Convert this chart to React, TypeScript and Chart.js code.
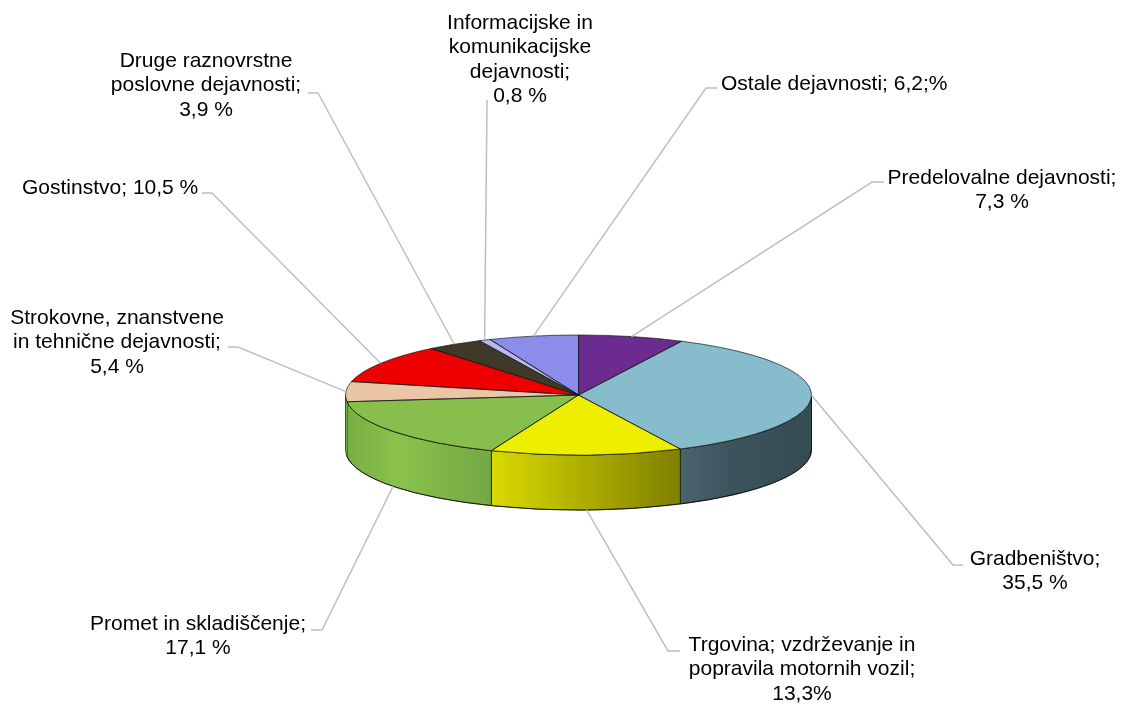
import React, { useEffect, useRef } from "react";
import { Chart, registerables } from "chart.js";
Chart.register(...registerables);

// ---- data ----
const categories = [
  "Predelovalne dejavnosti",
  "Gradbeništvo",
  "Trgovina; vzdrževanje in popravila motornih vozil",
  "Promet in skladiščenje",
  "Strokovne, znanstvene in tehnične dejavnosti",
  "Gostinstvo",
  "Druge raznovrstne poslovne dejavnosti",
  "Informacijske in komunikacijske dejavnosti",
  "Ostale dejavnosti",
];
const shares = [7.3, 35.5, 13.3, 17.1, 5.4, 10.5, 3.9, 0.8, 6.2];
const labelLines = [
  ["Predelovalne dejavnosti;", "7,3 %"],
  ["Gradbeništvo;", "35,5 %"],
  ["Trgovina; vzdrževanje in", "popravila motornih vozil;", "13,3%"],
  ["Promet in skladiščenje;", "17,1 %"],
  ["Strokovne, znanstvene", "in tehnične dejavnosti;", "5,4 %"],
  ["Gostinstvo; 10,5 %"],
  ["Druge raznovrstne", "poslovne dejavnosti;", "3,9 %"],
  ["Informacijske in", "komunikacijske", "dejavnosti;", "0,8 %"],
  ["Ostale dejavnosti; 6,2;%"],
];

// ---- styles ----
const topColors = [
  "#6B2B90",
  "#87BCCC",
  "#EEEE00",
  "#88BF4C",
  "#EBC6A6",
  "#EE0000",
  "#3F3A28",
  "#B8B8EE",
  "#8C8CEA",
];
const sideStops: [number, string][][] = [
  [[0, "#4B1E66"], [1, "#3A174F"]],
  [[0, "#4A636D"], [0.4, "#3C535C"], [1, "#364C54"]],
  [[0, "#DADA00"], [1, "#7F7F00"]],
  [[0, "#77AE42"], [0.35, "#8AC24C"], [1, "#74A844"]],
  [[0, "#77AE42"], [1, "#77AE42"]],
  [[0, "#B00000"], [1, "#900000"]],
  [[0, "#2E2A1D"], [1, "#25221A"]],
  [[0, "#8E8EC0"], [1, "#7A7AAA"]],
  [[0, "#6A6AB8"], [1, "#5A5AA0"]],
];

// ---- layout ----
const PIE_RADIUS = 233;
const TILT = 60 / 233;
const DEPTH = 55;
const FONT = "21px 'Liberation Sans', Arial, sans-serif";
const LINE_H = 24.5;
type Lay = { x: number; y: number; align: CanvasTextAlign; elbow: [number, number]; stub: [number, number] };
const labelLayout: Lay[] = [
  { x: 1002, y: 178, align: "center", elbow: [872, 182], stub: [884, 182] },
  { x: 1035, y: 559, align: "center", elbow: [953, 565], stub: [963, 565] },
  { x: 802, y: 645, align: "center", elbow: [668, 651], stub: [680, 651] },
  { x: 198, y: 624, align: "center", elbow: [322, 630], stub: [311, 630] },
  { x: 117, y: 318, align: "center", elbow: [238, 347], stub: [228, 347] },
  { x: 22, y: 188, align: "left", elbow: [212, 193], stub: [202, 193] },
  { x: 206, y: 61, align: "center", elbow: [318, 93], stub: [308, 93] },
  { x: 520, y: 23, align: "center", elbow: [487, 102], stub: [487, 100] },
  { x: 721, y: 84, align: "left", elbow: [706, 88], stub: [717, 88] },
];

function applyTilt(ctx: CanvasRenderingContext2D, cy: number) {
  ctx.translate(0, cy);
  ctx.scale(1, TILT);
  ctx.translate(0, -cy);
}

const pie3d = {
  id: "pie3d",
  beforeDatasetsDraw(chart: any) {
    const ctx: CanvasRenderingContext2D = chart.ctx;
    const meta = chart.getDatasetMeta(0);
    meta.data.forEach((el: any, i: number) => {
      const { x, y, startAngle, endAngle, outerRadius: r } = el;
      const ry = r * TILT;
      const a1 = Math.max(startAngle, 0);
      const a2 = Math.min(endAngle, Math.PI);
      if (a2 <= a1) return;
      const xR = x + r * Math.cos(a1);
      const xL = x + r * Math.cos(a2);
      ctx.save();
      ctx.beginPath();
      ctx.ellipse(x, y, r, ry, 0, a1, a2, false);
      ctx.lineTo(x + r * Math.cos(a2), y + ry * Math.sin(a2) + DEPTH);
      ctx.ellipse(x, y + DEPTH, r, ry, 0, a2, a1, true);
      ctx.closePath();
      const g = ctx.createLinearGradient(xL, 0, Math.max(xR, xL + 1), 0);
      sideStops[i].forEach(([o, c]) => g.addColorStop(o, c));
      ctx.fillStyle = g;
      ctx.fill();
      if (xR - xL > 3) {
        ctx.strokeStyle = "rgba(0,0,0,0.8)";
        ctx.lineWidth = 0.8;
        ctx.stroke();
      }
      ctx.restore();
    });
    // outer outline of the side
    const el0 = meta.data[0];
    ctx.save();
    ctx.beginPath();
    ctx.ellipse(el0.x, el0.y, el0.outerRadius, el0.outerRadius * TILT, 0, 0, Math.PI, false);
    ctx.lineTo(el0.x - el0.outerRadius, el0.y + DEPTH);
    ctx.ellipse(el0.x, el0.y + DEPTH, el0.outerRadius, el0.outerRadius * TILT, 0, Math.PI, 0, true);
    ctx.closePath();
    ctx.strokeStyle = "rgba(0,0,0,0.8)";
    ctx.lineWidth = 0.8;
    ctx.stroke();
    ctx.restore();
    ctx.save();
    applyTilt(ctx, meta.data[0].y);
  },
  afterDatasetsDraw(chart: any) {
    const ctx: CanvasRenderingContext2D = chart.ctx;
    ctx.restore();
    const meta = chart.getDatasetMeta(0);
    meta.data.forEach((el: any) => {
      const { x, y, startAngle, endAngle, outerRadius: r } = el;
      ctx.save();
      applyTilt(ctx, y);
      ctx.beginPath();
      ctx.moveTo(x, y);
      ctx.arc(x, y, r, startAngle, endAngle);
      ctx.closePath();
      ctx.restore();
      ctx.save();
      ctx.strokeStyle = "rgba(20,20,20,0.85)";
      ctx.lineWidth = 0.8;
      ctx.stroke();
      ctx.restore();
    });
  },
  afterDraw(chart: any) {
    const ctx: CanvasRenderingContext2D = chart.ctx;
    const meta = chart.getDatasetMeta(0);
    meta.data.forEach((el: any, i: number) => {
      const { x, y, startAngle, endAngle, outerRadius: r } = el;
      const mid = (startAngle + endAngle) / 2;
      const front = Math.sin(mid) > 0.3;
      const ax = x + r * Math.cos(mid);
      const ay = y + r * TILT * Math.sin(mid) + (front ? DEPTH : 0);
      const lay = labelLayout[i];
      ctx.save();
      ctx.strokeStyle = "#BFBFBF";
      ctx.lineWidth = 1.5;
      ctx.beginPath();
      ctx.moveTo(ax, ay);
      ctx.lineTo(lay.elbow[0], lay.elbow[1]);
      ctx.lineTo(lay.stub[0], lay.stub[1]);
      ctx.stroke();
      ctx.fillStyle = "#000";
      ctx.font = FONT;
      ctx.textAlign = lay.align;
      ctx.textBaseline = "middle";
      labelLines[i].forEach((t, k) => ctx.fillText(t, lay.x, lay.y + k * LINE_H));
      ctx.restore();
    });
  },
};

export default function App() {
  const ref = useRef<HTMLCanvasElement | null>(null);
  useEffect(() => {
    if (!ref.current) return;
    const chart = new Chart(ref.current, {
      type: "pie",
      data: {
        labels: categories,
        datasets: [
          {
            data: shares,
            backgroundColor: topColors,
            borderWidth: 0,
            hoverOffset: 0,
            radius: PIE_RADIUS,
          } as any,
        ],
      },
      options: {
        animation: false,
        responsive: true,
        maintainAspectRatio: false,
        layout: { padding: { left: 32, top: 86, right: 0, bottom: 0 } },
        plugins: { legend: { display: false }, tooltip: { enabled: false } },
        events: [],
      },
      plugins: [pie3d],
    });
    return () => chart.destroy();
  }, []);
  return (
    <div style={{ position: "fixed", left: 0, top: 0, width: 1125, height: 704, background: "#fff" }}>
      <canvas ref={ref} />
    </div>
  );
}
